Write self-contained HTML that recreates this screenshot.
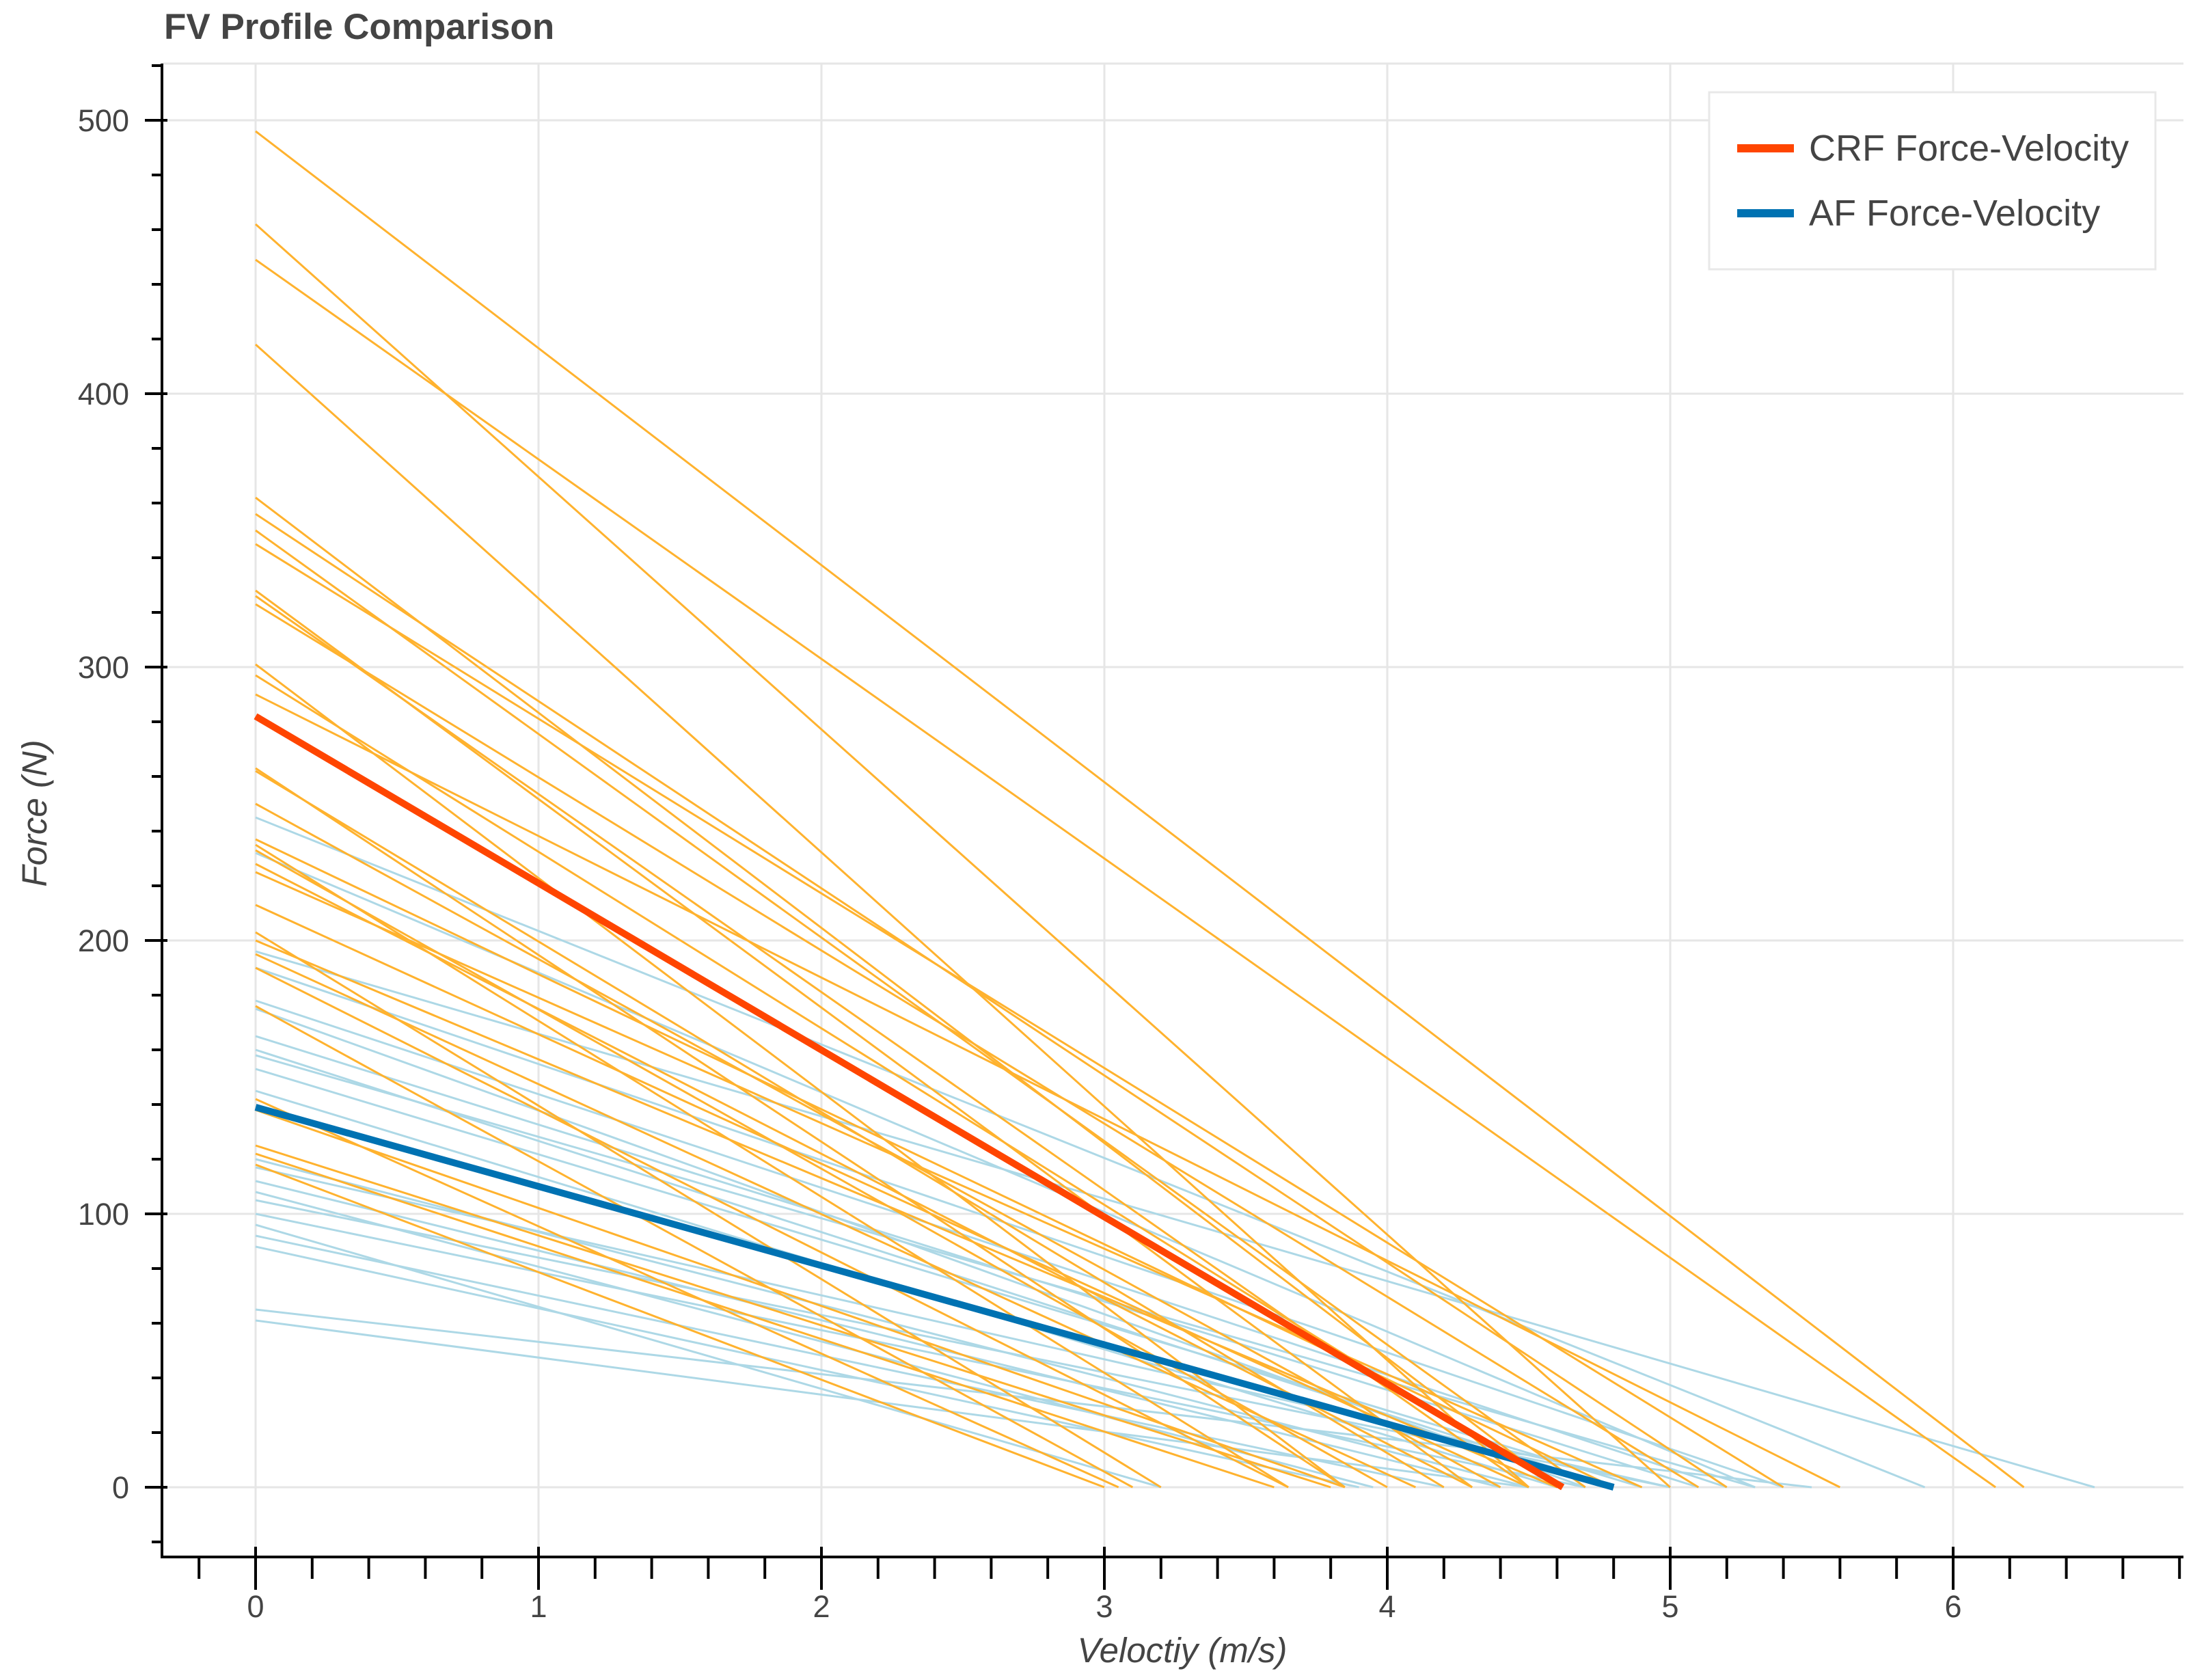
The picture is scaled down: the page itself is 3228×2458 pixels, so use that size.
<!DOCTYPE html>
<html><head><meta charset="utf-8"><style>
html,body{margin:0;padding:0;background:#fff}
svg{display:block;font-family:"Liberation Sans",sans-serif}
</style></head><body>
<svg id="chart" width="3228" height="2458" viewBox="0 0 3228 2458" xmlns="http://www.w3.org/2000/svg">
<text x="240" y="57" font-size="53" font-weight="bold" fill="#444">FV Profile Comparison</text>
<g id="grid"></g>
<g id="series"></g>
<g id="axes"></g>
<text transform="translate(68,1190) rotate(-90)" text-anchor="middle" font-size="51" font-style="italic" fill="#444">Force (N)</text>
<text x="1730" y="2432" text-anchor="middle" font-size="51" font-style="italic" fill="#444">Veloctiy (m/s)</text>
<g>
<rect x="2501" y="135" width="653" height="259" fill="#fff" stroke="#e8e8e8" stroke-width="3"/>
<line x1="2542" y1="217" x2="2625" y2="217" stroke="#FF4500" stroke-width="12"/>
<text x="2647" y="235" font-size="54" fill="#444">CRF Force-Velocity</text>
<line x1="2542" y1="312" x2="2625" y2="312" stroke="#0072B2" stroke-width="12"/>
<text x="2647" y="330" font-size="54" fill="#444">AF Force-Velocity</text>
</g>
</svg>
<script>
const crfF0 = [496,462,449,418,362,356,350,345,328,326,323,301,297,290,263,262,250,237,235,233,228,225,213,203,200,195,190,176,142,138,125,122,118];
const crfV0 = [6.25,5.0,6.15,4.5,4.6,5.2,4.7,5.4,4.3,4.5,5.1,3.85,4.6,5.6,3.85,4.2,4.4,4.8,3.65,4.0,4.3,4.9,4.5,3.2,4.6,4.1,3.65,3.1,3.05,3.85,3.8,3.6,3.0];
const afF0 = [245,232,196,190,178,175,165,160,158,153,145,120,117,112,108,105,100,96,92,88,65,61];
const afV0 = [5.9,5.3,6.5,5.4,5.2,4.7,5.1,4.8,5.3,4.9,4.6,4.5,5.0,4.4,3.95,5.0,4.7,3.2,4.2,3.9,5.5,4.5];
const crfMean = [282,4.62];
const afMean = [139,4.8];
const xTicks = [0,1,2,3,4,5,6];
const yTicks = [0,100,200,300,400,500];

const NS="http://www.w3.org/2000/svg";
const X0=374, XS=414, Y0=2176, YS=4.0;
const L=237, R=3195, T=93, B=2278;
function sx(v){return X0+XS*v;}
function sy(f){return Y0-YS*f;}
function mk(parent,tag,attrs){const e=document.createElementNS(NS,tag);for(const k in attrs)e.setAttribute(k,attrs[k]);parent.appendChild(e);return e;}
const grid=document.getElementById('grid'), ser=document.getElementById('series'), axes=document.getElementById('axes');
mk(grid,'line',{x1:L,y1:T,x2:R,y2:T,stroke:'#e6e6e6','stroke-width':3});
xTicks.forEach(v=>{const g=mk(grid,'line',{x1:sx(v),y1:T,x2:sx(v),y2:B,stroke:'#e6e6e6','stroke-width':3});

});
yTicks.forEach(v=>{const g=mk(grid,'line',{x1:L,y1:sy(v),x2:R,y2:sy(v),stroke:'#e6e6e6','stroke-width':3});

});
function fv(F0,V0,color,w,name){const l=mk(ser,'line',{x1:sx(0),y1:sy(F0),x2:sx(V0),y2:sy(0),stroke:color,'stroke-width':w});

}
afF0.forEach((f,i)=>fv(f,afV0[i],'#ADD8E6',3,'af-line'));
crfF0.forEach((f,i)=>fv(f,crfV0[i],'#FFB22E',3,'crf-line'));
fv(afMean[0],afMean[1],'#0072B2',10,'af-mean-line');
fv(crfMean[0],crfMean[1],'#FF4500',10,'crf-mean-line');
mk(axes,'line',{x1:L,y1:T,x2:L,y2:B+2,stroke:'#000','stroke-width':4});
mk(axes,'line',{x1:L-2,y1:B,x2:R,y2:B,stroke:'#000','stroke-width':4});
for(let f=-20;f<=520;f+=20){const y=sy(f);if(y<T||y>B)continue;const maj=f%100===0;
mk(axes,'line',{x1:L-(maj?25:15),y1:y,x2:L+(maj?8:0),y2:y,stroke:'#000','stroke-width':4});}
for(let k=-1;k<=34;k++){const v=k*0.2;const x=sx(v);if(x<L||x>R)continue;const maj=k%5===0;
mk(axes,'line',{x1:x,y1:B-(maj?15:0),x2:x,y2:B+(maj?48:32),stroke:'#000','stroke-width':4});}
yTicks.forEach(v=>{const t=mk(axes,'text',{x:L-48,y:sy(v)+16,'text-anchor':'end','font-size':45,fill:'#444'});t.textContent=v;

});
xTicks.forEach(v=>{const t=mk(axes,'text',{x:sx(v),y:B+88,'text-anchor':'middle','font-size':45,fill:'#444'});t.textContent=v;

});
</script>
</body></html>
